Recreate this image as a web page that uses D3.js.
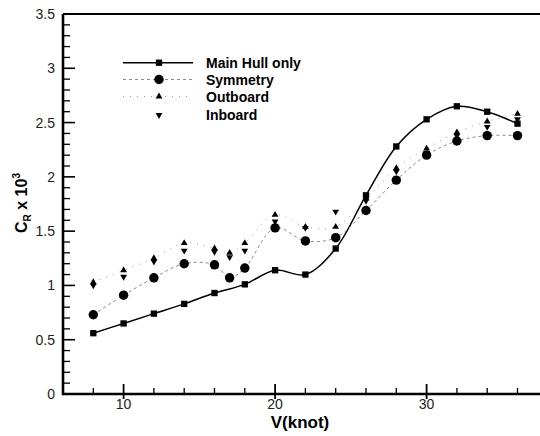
<!DOCTYPE html>
<html>
<head>
<meta charset="utf-8">
<script src="https://cdn.jsdelivr.net/npm/d3@7"></script>
<style>
  html, body { margin: 0; padding: 0; background: #fff; }
  svg { display: block; font-family: "Liberation Sans", Arial, sans-serif; }
</style>
</head>
<body>
<div id="chart"></div>
<script>
// speed in knots
const speeds = [8, 10, 12, 14, 16, 17, 18, 20, 22, 24, 26, 28, 30, 32, 34, 36];
const hullSpeeds = [8, 10, 12, 14, 16, 18, 20, 22, 24, 26, 28, 30, 32, 34, 36];

// C_R x 10^3
const mainHull = [0.56, 0.65, 0.74, 0.83, 0.93, 1.01, 1.14, 1.10, 1.34, 1.83, 2.28, 2.53, 2.65, 2.60, 2.49];
const symmetry = [0.73, 0.91, 1.07, 1.20, 1.19, 1.07, 1.16, 1.53, 1.41, 1.44, 1.69, 1.97, 2.20, 2.33, 2.38, 2.38];
const outboard = [1.03, 1.14, 1.25, 1.39, 1.34, 1.30, 1.39, 1.65, 1.54, 1.54, 1.80, 2.08, 2.26, 2.41, 2.51, 2.58];
const inboard  = [1.00, 1.08, 1.22, 1.32, 1.31, 1.26, 1.32, 1.59, 1.53, 1.68, 1.78, 2.05, 2.22, 2.38, 2.46, 2.53];

const xTicks = [10, 20, 30];
const yTicks = [0, 0.5, 1, 1.5, 2, 2.5, 3, 3.5];
const legendNames = ["Main Hull only", "Symmetry", "Outboard", "Inboard"];

const width = 540, height = 436;
const svg = d3.select("#chart").append("svg")
  .attr("width", width).attr("height", height);

const x = d3.scaleLinear().domain([6, 38]).range([63, 547.8]);
const y = d3.scaleLinear().domain([0, 3.5]).range([394, 14]);

// ---- series -----------------------------------------------------------------
const toPts = (xs, ys) => xs.map((v, i) => ({ v, c: ys[i] }));
const line = d3.line().x(d => x(d.v)).y(d => y(d.c)).curve(d3.curveCatmullRom.alpha(0.5));

const series = [
  { name: "Main Hull only", pts: toPts(hullSpeeds, mainHull), stroke: "#000", width: 1.5, dash: null, sym: "square", size: 40 },
  { name: "Symmetry", pts: toPts(speeds, symmetry), stroke: "#8a8a8a", width: 1, dash: "3,3", sym: "circle", size: 70 },
  { name: "Outboard", pts: toPts(speeds, outboard), stroke: "#9a9a9a", width: 1, dash: "1,6", sym: "triangle", size: 20 },
  { name: "Inboard", pts: toPts(speeds, inboard), stroke: null, width: 0, dash: null, sym: "down", size: 20 }
];

const symbolFor = (s, size) => {
  if (s === "square") return d3.symbol().type(d3.symbolSquare).size(size)();
  if (s === "circle") return d3.symbol().type(d3.symbolCircle).size(size)();
  return d3.symbol().type(d3.symbolTriangle).size(size)();
};

series.forEach(s => {
  if (s.stroke) {
    svg.append("path")
      .attr("d", line(s.pts))
      .attr("fill", "none")
      .attr("stroke", s.stroke)
      .attr("stroke-width", s.width)
      .attr("stroke-dasharray", s.dash);
  }
});

series.slice().reverse().forEach(s => {
  svg.append("g")
    .selectAll("path")
    .data(s.pts)
    .join("path")
    .attr("transform", d => `translate(${x(d.v)},${y(d.c)})` + (s.sym === "down" ? " rotate(180)" : ""))
    .attr("d", symbolFor(s.sym, s.size))
    .attr("fill", "#000");
});

// ---- axes -------------------------------------------------------------------
const axisColor = "#000";
// minor y ticks
const yMinor = d3.range(0, 35).map(i => i / 10).filter(v => Math.abs(v * 2 - Math.round(v * 2)) > 1e-6);
svg.append("g").selectAll("line").data(yMinor).join("line")
  .attr("x1", x(6)).attr("x2", x(6) + 7)
  .attr("y1", d => y(d)).attr("y2", d => y(d))
  .attr("stroke", axisColor).attr("stroke-width", 1.3);
svg.append("g").selectAll("line").data(yTicks).join("line")
  .attr("x1", x(6)).attr("x2", x(6) + 12)
  .attr("y1", d => y(d)).attr("y2", d => y(d))
  .attr("stroke", axisColor).attr("stroke-width", 1.6);

const xMinor = d3.range(8, 38, 2).filter(v => v % 10 !== 0);
svg.append("g").selectAll("line").data(xMinor).join("line")
  .attr("x1", d => x(d)).attr("x2", d => x(d))
  .attr("y1", y(0)).attr("y2", y(0) - 6)
  .attr("stroke", axisColor).attr("stroke-width", 1.3);
svg.append("g").selectAll("line").data(xTicks).join("line")
  .attr("x1", d => x(d)).attr("x2", d => x(d))
  .attr("y1", y(0) + 5).attr("y2", y(0) - 10)
  .attr("stroke", axisColor).attr("stroke-width", 1.8);

// frame lines
svg.append("line").attr("x1", x(6)).attr("x2", width).attr("y1", y(0)).attr("y2", y(0))
  .attr("stroke", axisColor).attr("stroke-width", 2.6);
svg.append("line").attr("x1", x(6)).attr("x2", x(6)).attr("y1", y(3.5)).attr("y2", y(0) + 1.3)
  .attr("stroke", axisColor).attr("stroke-width", 2.6);
svg.append("line").attr("x1", x(6)).attr("x2", width).attr("y1", y(3.5)).attr("y2", y(3.5))
  .attr("stroke", axisColor).attr("stroke-width", 2);

// tick labels
svg.append("g").selectAll("text").data(yTicks).join("text")
  .attr("x", 55).attr("y", d => y(d) + 5)
  .attr("text-anchor", "end")
  .attr("font-size", 14).attr("fill", "#222")
  .text(d => String(d));
svg.append("g").selectAll("text").data(xTicks).join("text")
  .attr("x", d => x(d)).attr("y", 409)
  .attr("text-anchor", "middle")
  .attr("font-size", 14).attr("fill", "#222")
  .text(d => String(d));

// axis titles
svg.append("text")
  .attr("x", 300).attr("y", 428)
  .attr("text-anchor", "middle")
  .attr("font-size", 17).attr("font-weight", "bold")
  .text("V(knot)");

const yt = svg.append("text")
  .attr("transform", "translate(27,203) rotate(-90)")
  .attr("text-anchor", "middle")
  .attr("font-size", 16).attr("font-weight", "bold");
yt.append("tspan").text("C");
yt.append("tspan").attr("font-size", 10).attr("dy", 4).text("R");
yt.append("tspan").attr("dy", -4).text(" x 10");
yt.append("tspan").attr("font-size", 10).attr("dy", -7).text("3");

// ---- legend -----------------------------------------------------------------
const legendY = [62.7, 79.5, 96.5, 115];
series.forEach((s, i) => {
  const g = svg.append("g").attr("transform", `translate(0,${legendY[i]})`);
  if (s.stroke) {
    g.append("line").attr("x1", 123).attr("x2", 193).attr("y1", 0).attr("y2", 0)
      .attr("stroke", s.stroke).attr("stroke-width", s.width).attr("stroke-dasharray", s.dash);
  }
  g.append("path")
    .attr("transform", `translate(159,0)` + (s.sym === "down" ? " rotate(180)" : ""))
    .attr("d", symbolFor(s.sym, s.size))
    .attr("fill", "#000");
  g.append("text")
    .attr("x", 206).attr("y", 5)
    .attr("font-size", 14).attr("font-weight", "bold")
    .text(legendNames[i]);
});
</script>
</body>
</html>
